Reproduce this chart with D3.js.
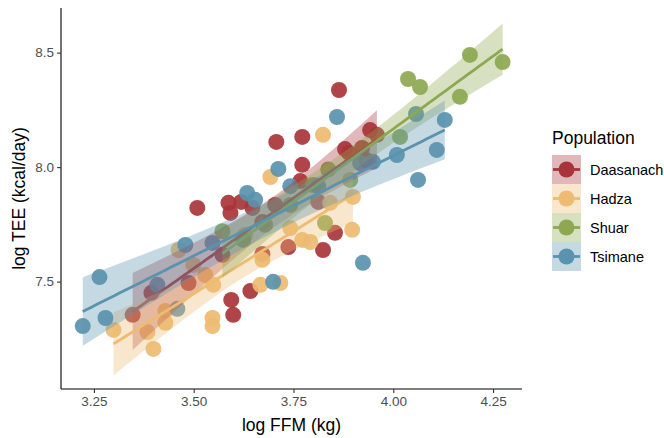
<!DOCTYPE html>
<html>
<head>
<meta charset="utf-8">
<script src="https://cdn.jsdelivr.net/npm/d3@7"></script>
<style>
  html, body { margin: 0; padding: 0; background: #fff; }
  svg { display: block; font-family: "Liberation Sans", Arial, Helvetica, sans-serif; }
</style>
</head>
<body>
<svg id="chart" width="664" height="438"></svg>
<script>
// Log fat-free mass (kg) vs log total energy expenditure (kcal/day), by population
const populations = ["Daasanach", "Hadza", "Shuar", "Tsimane"];
const popColors = ["#A8343A", "#EDBB71", "#8DA851", "#5A93AE"];

const daasanachFFM = [3.347, 3.394, 3.487, 3.509, 3.587, 3.619, 3.592, 3.647, 3.594, 3.599, 3.642, 3.672, 3.737, 3.707, 3.772, 3.772, 3.864, 3.854, 3.824, 3.812, 3.942, 3.959, 3.922, 3.889, 3.932, 3.704, 3.572, 3.672, 3.767, 3.879];
const daasanachTEE = [7.355, 7.451, 7.494, 7.822, 7.844, 7.848, 7.800, 7.822, 7.420, 7.355, 7.459, 7.621, 7.651, 8.110, 8.132, 8.010, 8.337, 7.713, 7.638, 7.848, 8.162, 8.141, 8.084, 8.062, 8.031, 7.835, 7.617, 7.760, 7.939, 8.079];

const hadzaFFM = [3.299, 3.384, 3.399, 3.429, 3.429, 3.462, 3.547, 3.547, 3.549, 3.499, 3.667, 3.717, 3.692, 3.824, 3.842, 3.899, 3.897, 3.792, 3.772, 3.672, 3.629, 3.742, 3.529];
const hadzaTEE = [7.289, 7.280, 7.206, 7.320, 7.372, 7.638, 7.341, 7.306, 7.486, 7.573, 7.486, 7.494, 7.957, 8.141, 7.844, 7.870, 7.726, 7.673, 7.682, 7.595, 7.704, 7.734, 7.529];

const shuarFFM = [3.572, 3.829, 4.037, 4.067, 4.192, 4.017, 4.167, 4.274, 3.799, 3.837, 3.624, 3.679, 3.742, 3.892];
const shuarTEE = [7.720, 7.756, 8.385, 8.350, 8.490, 8.132, 8.307, 8.459, 7.922, 7.990, 7.682, 7.748, 7.835, 7.944];

const tsimaneFFM = [3.222, 3.264, 3.279, 3.409, 3.459, 3.479, 3.547, 3.634, 3.654, 3.712, 3.859, 3.699, 3.924, 4.057, 4.129, 4.109, 4.062, 4.009, 3.949, 3.917, 3.742, 3.812];
const tsimaneTEE = [7.306, 7.520, 7.341, 7.486, 7.381, 7.660, 7.669, 7.887, 7.857, 7.992, 8.219, 7.499, 7.582, 8.232, 8.206, 8.075, 7.944, 8.053, 8.023, 8.018, 7.917, 7.917];

const xTicks = [3.25, 3.50, 3.75, 4.00, 4.25];
const yTicks = [7.5, 8.0, 8.5];
const xDomain = [3.1675, 4.3225];
const yDomain = [7.031, 8.695];

const groups = [
  { name: populations[0], color: popColors[0], x: daasanachFFM, y: daasanachTEE },
  { name: populations[1], color: popColors[1], x: hadzaFFM, y: hadzaTEE },
  { name: populations[2], color: popColors[2], x: shuarFFM, y: shuarTEE },
  { name: populations[3], color: popColors[3], x: tsimaneFFM, y: tsimaneTEE }
];

const svg = d3.select("#chart");
const panel = { left: 61, right: 522, top: 8, bottom: 389 };

const x = d3.scaleLinear().domain(xDomain).range([panel.left, panel.right]);
const y = d3.scaleLinear().domain(yDomain).range([panel.bottom, panel.top]);

// Student t quantile (two-sided 95%) via Cornish-Fisher expansion
function tQuantile975(df) {
  const z = 1.959964;
  const z3 = z ** 3, z5 = z ** 5, z7 = z ** 7;
  return z + (z3 + z) / (4 * df) + (5 * z5 + 16 * z3 + 3 * z) / (96 * df * df)
    + (3 * z7 + 19 * z5 + 17 * z3 - 15 * z) / (384 * df ** 3);
}

// Ordinary least squares fit with 95% confidence band for the mean
function linearFit(xs, ys, nSteps = 80) {
  const n = xs.length;
  const mx = d3.mean(xs), my = d3.mean(ys);
  let sxx = 0, sxy = 0;
  for (let i = 0; i < n; i++) {
    sxx += (xs[i] - mx) ** 2;
    sxy += (xs[i] - mx) * (ys[i] - my);
  }
  const b = sxy / sxx, a = my - b * mx;
  let sse = 0;
  for (let i = 0; i < n; i++) sse += (ys[i] - a - b * xs[i]) ** 2;
  const s = Math.sqrt(sse / (n - 2));
  const t = tQuantile975(n - 2);
  const [x0, x1] = d3.extent(xs);
  return d3.range(nSteps).map(i => {
    const xv = x0 + (x1 - x0) * i / (nSteps - 1);
    const fit = a + b * xv;
    const se = s * Math.sqrt(1 / n + (xv - mx) ** 2 / sxx);
    return { x: xv, fit, lo: fit - t * se, hi: fit + t * se };
  });
}

// Points
const pointLayer = svg.append("g");
groups.forEach(g => {
  pointLayer.selectAll(null)
    .data(d3.zip(g.x, g.y))
    .enter().append("circle")
    .attr("cx", d => x(d[0]))
    .attr("cy", d => y(d[1]))
    .attr("r", 8)
    .attr("fill", g.color)
    .attr("fill-opacity", 0.92);
});

// Regression ribbons and lines
const area = d3.area().x(d => x(d.x)).y0(d => y(d.lo)).y1(d => y(d.hi));
const line = d3.line().x(d => x(d.x)).y(d => y(d.fit));
const smoothLayer = svg.append("g");
groups.forEach(g => {
  const fit = linearFit(g.x, g.y);
  smoothLayer.append("path").datum(fit)
    .attr("d", area)
    .attr("fill", g.color)
    .attr("fill-opacity", 0.35);
  smoothLayer.append("path").datum(fit)
    .attr("d", line)
    .attr("fill", "none")
    .attr("stroke", g.color)
    .attr("stroke-width", 2.8);
});

// Axes
const xAxis = svg.append("g")
  .attr("transform", `translate(0,${panel.bottom})`)
  .call(d3.axisBottom(x).tickValues(xTicks).tickFormat(d3.format(".2f")).tickSizeOuter(0).tickSize(4).tickPadding(3));
const yAxis = svg.append("g")
  .attr("transform", `translate(${panel.left},0)`)
  .call(d3.axisLeft(y).tickValues(yTicks).tickFormat(d3.format(".1f")).tickSizeOuter(0).tickSize(4).tickPadding(3));

[xAxis, yAxis].forEach(ax => {
  ax.select(".domain").attr("stroke", "#000").attr("stroke-width", 1.1);
  ax.selectAll(".tick line").attr("stroke", "#333").attr("stroke-width", 1.1);
  ax.selectAll(".tick text").attr("fill", "#4D4D4D").attr("font-size", 13.5)
    .attr("font-family", "Liberation Sans, Arial, sans-serif");
});
// extend the domain lines so they meet at the corner
xAxis.select(".domain").attr("d", `M${panel.left},0H${panel.right}`);
yAxis.select(".domain").attr("d", `M0,${panel.top}V${panel.bottom}`);

// Axis titles
svg.append("text")
  .attr("x", (panel.left + panel.right) / 2).attr("y", 431)
  .attr("text-anchor", "middle").attr("font-size", 17.5).attr("fill", "#000")
  .text("log FFM (kg)");
svg.append("text")
  .attr("transform", `translate(25,${(panel.top + panel.bottom) / 2}) rotate(-90)`)
  .attr("text-anchor", "middle").attr("font-size", 17.5).attr("fill", "#000")
  .text("log TEE (kcal/day)");

// Legend
const legend = svg.append("g").attr("transform", "translate(552,0)");
legend.append("text").attr("x", 0).attr("y", 144)
  .attr("font-size", 17.5).attr("fill", "#000").text("Population");
const keySize = 29, keyTop = 155;
groups.forEach((g, i) => {
  const ky = keyTop + i * keySize;
  const key = legend.append("g").attr("transform", `translate(0,${ky})`);
  key.append("rect").attr("width", keySize).attr("height", keySize)
    .attr("fill", g.color).attr("fill-opacity", 0.35);
  key.append("line").attr("x1", 1).attr("x2", keySize - 1)
    .attr("y1", keySize / 2).attr("y2", keySize / 2)
    .attr("stroke", g.color).attr("stroke-width", 2.8);
  key.append("circle").attr("cx", keySize / 2).attr("cy", keySize / 2).attr("r", 8)
    .attr("fill", g.color);
  key.append("text").attr("x", keySize + 9).attr("y", keySize / 2)
    .attr("dy", "0.35em").attr("font-size", 14.5).attr("fill", "#000").text(g.name);
});
</script>
</body>
</html>
